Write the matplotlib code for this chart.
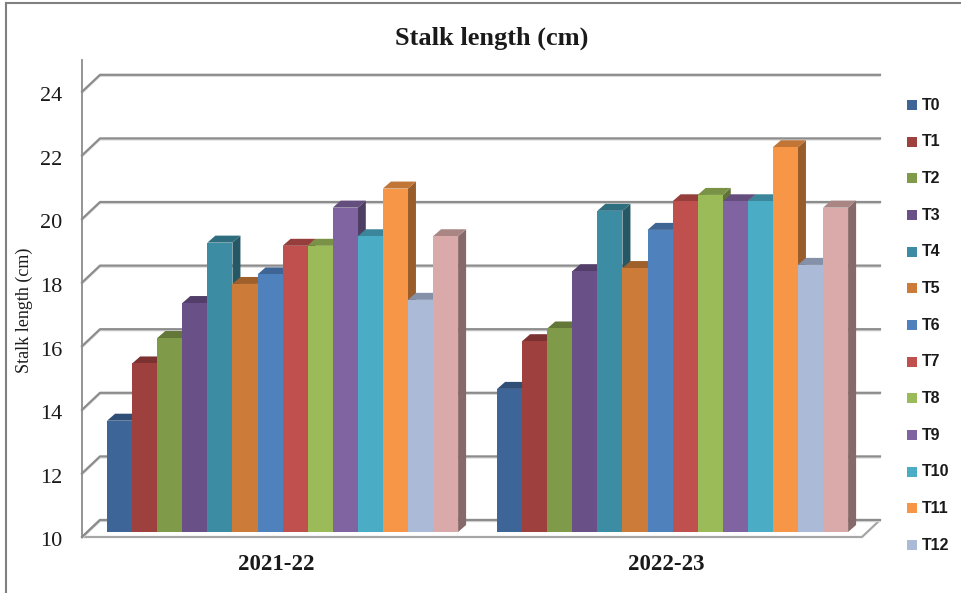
import numpy as np
import matplotlib
matplotlib.use('Agg')
import matplotlib.pyplot as plt
import matplotlib.transforms as mtransforms
from matplotlib.patches import Polygon, Rectangle
from matplotlib.lines import Line2D
import matplotlib.colors as mcolors

# data
seasons = ['2021-22', '2022-23']
treatments = ['T0', 'T1', 'T2', 'T3', 'T4', 'T5', 'T6', 'T7', 'T8', 'T9', 'T10', 'T11', 'T12', 'T13']
stalk_2021 = [13.5, 15.3, 16.1, 17.2, 19.1, 17.8, 18.1, 19.0, 19.0, 20.2, 19.3, 20.8, 17.3, 19.3]
stalk_2022 = [14.5, 16.0, 16.4, 18.2, 20.1, 18.3, 19.5, 20.4, 20.6, 20.4, 20.4, 22.1, 18.4, 20.2]
yticks = [10, 12, 14, 16, 18, 20, 22, 24]
colors = ['#3D6598', '#9E403E', '#7F9A48', '#695086', '#3C8DA3', '#CC7B38', '#4F81BD',
          '#C0504D', '#9BBB59', '#8064A2', '#4BACC6', '#F79646', '#AABAD7', '#D9AAA9']
legend_count = 13  # T13 falls outside the chart area in the original

values = np.array([stalk_2021, stalk_2022])

W, H = 961, 593
fig = plt.figure(figsize=(W / 100, H / 100), dpi=100)

# bar front plane in pixels
X0, X1 = 87.6, 867.6
Y10, Y24 = 532.0, 86.8
ax = fig.add_axes([X0 / W, (H - Y10) / H, (X1 - X0) / W, (Y10 - Y24) / H])
ax.set_xlim(-0.5, 1.5)
ax.set_ylim(10, 24)
ax.axis('off')

kx = 2.0 / (X1 - X0)
ky = 14.0 / (Y10 - Y24)
bdx, bdy = 8 * kx, 7 * ky          # bar depth
fdx, fdy = -5.6 * kx, -5 * ky       # floor front edge
wdx, wdy = 12.4 * kx, 12 * ky       # back wall

grid_c = '#8c8c8c'

# floor
floor = Polygon([(-0.5 + fdx, 10 + fdy), (1.5 + fdx, 10 + fdy),
                 (1.5 + wdx, 10 + wdy), (-0.5 + wdx, 10 + wdy)],
                closed=True, facecolor='white', edgecolor='#a6a6a6', lw=1.6,
                clip_on=False, zorder=1)
ax.add_patch(floor)

# gridlines: left side wall + back wall
for v in yticks:
    ax.add_line(Line2D([-0.5 + fdx, -0.5 + wdx, 1.5 + wdx],
                       [v + fdy, v + wdy, v + wdy],
                       color=grid_c, lw=1.6, clip_on=False, zorder=2))
    ax.add_line(Line2D([-0.5 + fdx, -0.5 + wdx, 1.5 + wdx],
                       [v + fdy - 1.5 * ky, v + wdy - 1.5 * ky, v + wdy - 1.5 * ky],
                       color='#d9d9d9', lw=1.0, clip_on=False, zorder=1.9))

# vertical axis line
ax.add_line(Line2D([-0.5 + fdx, -0.5 + fdx], [10 + fdy, 25 + fdy],
                   color='#8c8c8c', lw=1.3, clip_on=False, zorder=2))


def shade(c, f):
    r, g, b = mcolors.to_rgb(c)
    return (r * f, g * f, b * f)


n = len(treatments)
group_w = 0.9
bw = group_w / n
z = 3
for g in range(len(seasons)):
    for i in range(n):
        v = values[g, i]
        xl = g - group_w / 2 + i * bw
        xr = xl + bw
        c = colors[i]
        side = Polygon([(xr, 10), (xr + bdx, 10 + bdy), (xr + bdx, v + bdy), (xr, v)],
                       closed=True, facecolor=shade(c, 0.62), edgecolor='none',
                       clip_on=False, zorder=z)
        top = Polygon([(xl, v), (xr, v), (xr + bdx, v + bdy), (xl + bdx, v + bdy)],
                      closed=True, facecolor=shade(c, 0.78), edgecolor='none',
                      clip_on=False, zorder=z + 0.1)
        front = Rectangle((xl, 10), bw, v - 10, facecolor=c, edgecolor='none',
                          clip_on=False, zorder=z + 0.2)
        ax.add_patch(side)
        ax.add_patch(top)
        ax.add_patch(front)
        z += 1

serif = 'Liberation Serif'

# y tick labels
tick_tr = mtransforms.offset_copy(ax.transData, fig, x=-25, y=-10, units='dots')
for v in yticks:
    ax.text(-0.5, v, str(v), transform=tick_tr, ha='right', va='center',
            fontsize=16, family=serif, color='#1a1a1a')

# category labels
cat_tr = mtransforms.offset_copy(ax.transData, fig, x=-6, y=-33, units='dots')
for g, s in enumerate(seasons):
    ax.text(g, 10, s, transform=cat_tr, ha='center', va='center',
            fontsize=16.5, fontweight='bold', family=serif, color='#1a1a1a')

# titles
fig.text(492 / W, 1 - 38 / H, 'Stalk length (cm)', ha='center', va='center',
         fontsize=19, fontweight='bold', family=serif, color='#1a1a1a')
fig.text(24 / W, 1 - 310 / H, 'Stalk length (cm)', ha='center', va='center',
         rotation=90, fontsize=13, family=serif, color='#1a1a1a')

# legend
for i in range(legend_count):
    yc = 105 + i * 36.67
    fig.patches.append(Rectangle((907 / W, 1 - (yc + 5) / H), 10 / W, 10 / H,
                                 transform=fig.transFigure, facecolor=colors[i],
                                 edgecolor='none'))
    fig.text(922 / W, 1 - yc / H, treatments[i], ha='left', va='center',
             fontsize=11.5, fontweight='bold', family='Liberation Sans', color='#1a1a1a')

# chart border (top and left)
fig.add_artist(Line2D([6 / W, 1], [1 - 3 / H, 1 - 3 / H], transform=fig.transFigure,
                      color='#808080', lw=1.5))
fig.add_artist(Line2D([6 / W, 6 / W], [0, 1 - 3 / H], transform=fig.transFigure,
                      color='#808080', lw=1.5))

fig.savefig('out.png', dpi=100)
